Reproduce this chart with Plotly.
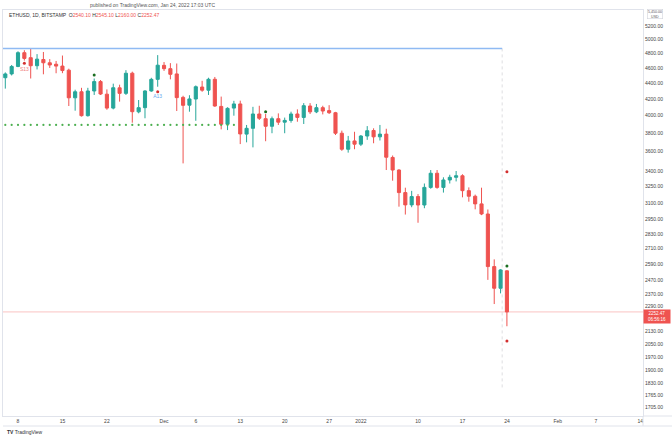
import math
import pandas as pd
import plotly.graph_objects as go

# ---------------- data ----------------
dates = pd.date_range("2021-11-06", "2022-01-24", freq="D")

opens = [4470, 4520, 4620, 4810, 4740, 4630, 4715, 4670, 4650, 4625, 4570, 4215, 4290, 4000, 4300,
         4420, 4260, 4090, 4340, 4270, 4530, 4045, 4095, 4300, 4449,
         4635, 4590, 4520, 4220, 4125, 4200, 4350, 4310, 4450, 4110, 3901, 4090, 4140, 3790, 3855,
         4020, 3965, 3878, 3965, 3925, 3945, 4020, 3980, 4115, 4045, 4095, 4060, 4035, 3800, 3626, 3715,
         3680, 3769, 3830, 3760, 3790, 3540, 3412, 3194, 3081, 3157, 3080, 3243, 3380, 3243, 3314,
         3340, 3355, 3212, 3160, 3090, 3000, 2572, 2414, 2540.10]
highs = [4540, 4640, 4830, 4845, 4868, 4790, 4820, 4720, 4695, 4770, 4590, 4316, 4340, 4340, 4460,
         4440, 4320, 4393, 4380, 4570, 4550, 4188, 4310, 4469, 4776,
         4680, 4665, 4660, 4240, 4247, 4370, 4430, 4470, 4480, 4230, 4100, 4178, 4180, 3893, 4105,
         4118, 4020, 3990, 4027, 3978, 4047, 4075, 4150, 4150, 4140, 4118, 4125, 4045, 3829, 3770, 3816,
         3780, 3880, 3855, 3893, 3850, 3560, 3420, 3240, 3210, 3180, 3280, 3412, 3412, 3340, 3365,
         3402, 3370, 3243, 3175, 3240, 3040, 2627, 2553, 2545.10]
lows = [4330, 4500, 4610, 4700, 4460, 4580, 4515, 4600, 4529, 4530, 4115, 4059, 3990, 3990, 4250,
        4250, 4070, 4075, 4168, 4250, 3919, 4028, 3970, 4290, 4354,
        4560, 4449, 4055, 3479, 4047, 3941, 4290, 4250, 4105, 3843, 3835, 4000, 3681, 3700, 3646,
        3950, 3712, 3800, 3893, 3800, 3919, 3930, 3904, 4020, 4030, 4015, 4020, 3780, 3609, 3590, 3626,
        3660, 3727, 3690, 3720, 3412, 3307, 3065, 2995, 3060, 2924, 3051, 3230, 3230, 3194, 3280,
        3300, 3150, 3110, 3041, 2990, 2474, 2305, 2378, 2160.00]
closes = [4520, 4620, 4810, 4730, 4630, 4720, 4670, 4640, 4625, 4565, 4215, 4290, 4000, 4300, 4420,
          4262, 4090, 4341, 4270, 4529, 4047, 4095, 4300, 4449, 4637,
          4590, 4515, 4217, 4123, 4201, 4354, 4310, 4450, 4115, 3901, 4087, 4140, 3792, 3855, 4020,
          3970, 3878, 3965, 3925, 3945, 4020, 3980, 4119, 4045, 4095, 4055, 4035, 3800, 3626, 3715, 3680,
          3769, 3828, 3760, 3790, 3542, 3412, 3194, 3081, 3157, 3080, 3243, 3380, 3243, 3314, 3340,
          3355, 3212, 3160, 3090, 3000, 2572, 2414, 2547, 2252.47]

resistance_level = 4870
resistance_end = "2022-01-23 06:00"
support_level = 3893
support_end = "2021-12-12"
last_price = 2252.47
countdown = "06:56:16"

red_sig_dates = ["2021-11-09", "2021-11-30", "2022-01-24", "2022-01-24"]
red_sig_values = [4663, 4291, 3395, 2069]
green_sig_dates = ["2021-11-20", "2021-12-17", "2022-01-24"]
green_sig_values = [4506, 4047, 2576]
sig_label_dates = ["2021-11-09", "2021-11-30"]
sig_label_values = [4581, 4228]
sig_label_texts = ["S13", "A13"]

y_ticks = [5200, 5000, 4800, 4600, 4400, 4200, 4000, 3800, 3600, 3400, 3250, 3100, 2950,
           2830, 2710, 2590, 2470, 2370, 2290, 2130, 2050, 1970, 1900, 1830, 1765, 1705]
x_tick_dates = ["2021-11-08", "2021-11-15", "2021-11-22", "2021-12-01", "2021-12-06", "2021-12-13",
                "2021-12-20", "2021-12-27", "2022-01-01", "2022-01-10", "2022-01-17", "2022-01-24",
                "2022-02-01", "2022-02-07", "2022-02-14"]
x_tick_labels = ["8", "15", "22", "Dec", "6", "13", "20", "27", "2022", "10", "17", "24", "Feb", "7", "14"]

x_range = ["2021-11-05 15:18", "2022-02-14 10:20"]
y_range = [1661.0, 5450.0]

UP = "#26a69a"
DOWN = "#ef5350"
FONT = "Liberation Sans"

# ---------------- figure ----------------
fig = go.Figure()

fig.add_trace(go.Scatter(x=[x_range[0], x_range[1]], y=[last_price, last_price], mode="lines",
                         line=dict(color="rgba(239,83,80,0.35)", width=1), hoverinfo="skip"))
fig.add_trace(go.Scatter(x=[resistance_end, resistance_end], y=[resistance_level, 1790], mode="lines",
                         line=dict(color="rgba(160,160,170,0.35)", width=1, dash="dot"), hoverinfo="skip"))
fig.add_trace(go.Scatter(x=[x_range[0], resistance_end], y=[resistance_level, resistance_level], mode="lines",
                         line=dict(color="#8fbaf3", width=1.6), hoverinfo="skip"))

sup_dates = [d for d in dates if d <= pd.Timestamp(support_end)]
fig.add_trace(go.Scatter(x=sup_dates, y=[support_level] * len(sup_dates), mode="markers",
                         marker=dict(color="#4caf50", size=2.2), hoverinfo="skip"))

fig.add_trace(go.Candlestick(
    x=dates, open=opens, high=highs, low=lows, close=closes,
    increasing=dict(line=dict(color=UP, width=1), fillcolor=UP),
    decreasing=dict(line=dict(color=DOWN, width=1), fillcolor=DOWN),
    whiskerwidth=0, hoverinfo="skip"))

fig.add_trace(go.Scatter(x=red_sig_dates, y=red_sig_values, mode="markers",
                         marker=dict(color="#d32f2f", size=3), hoverinfo="skip"))
fig.add_trace(go.Scatter(x=green_sig_dates, y=green_sig_values, mode="markers",
                         marker=dict(color="#1b6e20", size=3), hoverinfo="skip"))
fig.add_trace(go.Scatter(x=sig_label_dates, y=sig_label_values, mode="text", text=sig_label_texts,
                         textfont=dict(family=FONT, size=5, color=["#f08080", "#64a8f0"]),
                         hoverinfo="skip"))

fig.update_layout(
    width=672, height=440,
    margin=dict(l=3, r=29, t=10, b=24),
    paper_bgcolor="white", plot_bgcolor="white",
    showlegend=False,
    font=dict(family=FONT, size=5, color="#444"),
    xaxis=dict(type="date", range=x_range, rangeslider=dict(visible=False),
               tickvals=x_tick_dates, ticktext=x_tick_labels, showgrid=False, zeroline=False,
               showline=True, linecolor="#e0e3eb", linewidth=1, mirror=True, ticks="",
               tickfont=dict(family=FONT, size=5, color="#444")),
    yaxis=dict(type="log", range=[math.log10(y_range[0]), math.log10(y_range[1])], side="right",
               tickvals=y_ticks, ticktext=["%.2f" % v for v in y_ticks], showgrid=False, zeroline=False,
               showline=True, linecolor="#e0e3eb", linewidth=1, mirror=True, ticks="",
               tickfont=dict(family=FONT, size=5, color="#444")),
)

legend_html = ("ETHUSD, 1D, BITSTAMP  O<span style='color:%s'>%.2f</span> H<span style='color:%s'>%.2f</span>"
               " L<span style='color:%s'>%.2f</span> C<span style='color:%s'>%.2f</span>"
               % (DOWN, opens[-1], DOWN, highs[-1], DOWN, lows[-1], DOWN, closes[-1]))

fig.add_annotation(xref="paper", yref="paper", x=0.234, y=(416 - 5) / 406, xanchor="center", yanchor="middle",
                   text="published on TradingView.com, Jan 24, 2022 17:03 UTC", showarrow=False,
                   font=dict(family=FONT, size=5, color="#555"))
fig.add_annotation(xref="paper", yref="paper", x=4 / 640, y=(416 - 15) / 406, xanchor="left", yanchor="middle",
                   text=legend_html, showarrow=False, font=dict(family=FONT, size=5, color="#333"))
fig.add_annotation(xref="paper", yref="y", x=(657 - 3) / 640, y=math.log10(last_price), xanchor="center",
                   yanchor="top", yshift=3, text="%.2f<br>%s" % (last_price, countdown), showarrow=False,
                   bgcolor=DOWN, font=dict(family=FONT, size=4.5, color="white"), borderpad=1, width=24)
fig.add_annotation(xref="paper", yref="paper", x=(655 - 3) / 640, y=(416 - 14) / 406, xanchor="center",
                   yanchor="middle", text="5,450.00<br>USD", showarrow=False, bgcolor="white",
                   bordercolor="#d0d3db", borderwidth=0.6, borderpad=0.3,
                   font=dict(family=FONT, size=3.6, color="#555"))
fig.add_annotation(xref="paper", yref="paper", x=2 / 640, y=(416 - 432) / 406, xanchor="left", yanchor="middle",
                   text="<b>TV</b> TradingView", showarrow=False, font=dict(family=FONT, size=5, color="#333"))

fig.add_shape(type="line", xref="paper", yref="paper", x0=0, x1=669 / 640, y0=-10 / 406, y1=-10 / 406,
              line=dict(color="#e0e3eb", width=1))
fig.add_shape(type="line", xref="paper", yref="paper", x0=1, x1=669 / 640, y0=0, y1=0,
              line=dict(color="#e0e3eb", width=1))
fig.add_shape(type="line", xref="paper", yref="paper", x0=1, x1=1, y0=-10 / 406, y1=0,
              line=dict(color="#e0e3eb", width=1))

fig.write_html("out.html", config={"displayModeBar": False},
               post_script="document.body.style.margin='0';")
